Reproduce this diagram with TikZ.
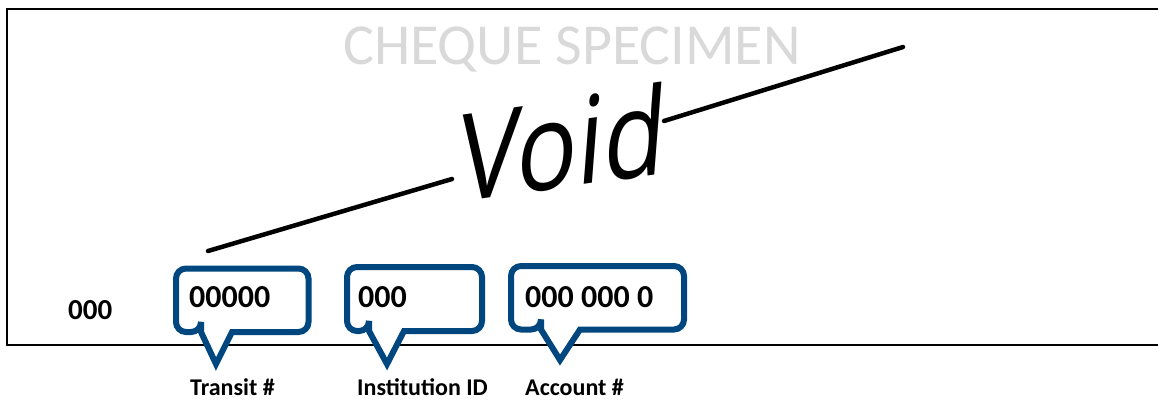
\documentclass[tikz,border=0pt]{standalone}
\usepackage{fontspec}
\setmainfont{Carlito}
\newfontfamily\voidfont{Open Sans}
\definecolor{calloutblue}{RGB}{0,71,127}
\definecolor{specgray}{RGB}{217,217,217}
\begin{document}
\begin{tikzpicture}[x=1pt,y=-1pt,
  frameline/.style={line width=2pt,black},
  sigline/.style={line width=4.5pt,black,line cap=round},
  callout/.style={line width=6pt,calloutblue,fill=white,line join=miter},
  numtext/.style={anchor=base west,inner sep=0pt,font=\fontsize{32}{38}\selectfont\bfseries},
  labtext/.style={anchor=base west,inner sep=0pt,font=\fontsize{24}{28}\selectfont\bfseries}]
\useasboundingbox (0,0) rectangle (1158,400);
% frame
\coordinate (ftr) at (1158,9);
\coordinate (ftl) at (7,9);
\coordinate (fbl) at (7,345);
\coordinate (fbr) at (1158,345);
\draw[frameline] (ftr) -- (ftl) -- (fbl) -- (fbr);
% title
\node[text=specgray,inner sep=0pt,anchor=base,font=\fontsize{58}{66}\selectfont] (title) at (572,64) {CHEQUE SPECIMEN};
% signature
\coordinate (s1a) at (208,251);
\coordinate (s1b) at (452,179);
\coordinate (s2a) at (664,121);
\coordinate (s2b) at (903,47);
\draw[sigline] (s1a) -- (s1b);
\draw[sigline] (s2a) -- (s2b);
\node[inner sep=0pt,anchor=base,rotate=8,xslant=0.22,xscale=0.85,font=\fontsize{120}{124}\voidfont] (void) at (560,188) {Void};
% callouts
\draw[callout] (201,332) -- (216,364) -- (232,332) [rounded corners=10pt] -- (308.5,332) -- (308.5,268.5) -- (176,268.5) -- (176,332) -- (201,332) [sharp corners] -- cycle;
\draw[callout] (369,331) -- (387,364) -- (404,331) [rounded corners=10pt] -- (482,331) -- (482,267) -- (347,267) -- (347,331) -- (369,331) [sharp corners] -- cycle;
\draw[callout] (541,329.5) -- (560,360) -- (580,329.5) [rounded corners=10pt] -- (684,329.5) -- (684,266) -- (511,266) -- (511,329.5) -- (541,329.5) [sharp corners] -- cycle;
% numbers
\node[numtext,font=\fontsize{29}{34}\selectfont\bfseries] (cheq) at (68,319) {000};
\node[numtext] (transit) at (189,307) {00000};
\node[numtext] (inst) at (358,307) {000};
\node[numtext] (acct) at (525,307) {000 000 0};
% labels
\node[labtext] (ltransit) at (190,395) {Transit \#};
\node[labtext] (linst) at (357,395) {Institution ID};
\node[labtext] (lacct) at (525,395) {Account \#};
\end{tikzpicture}
\end{document}
